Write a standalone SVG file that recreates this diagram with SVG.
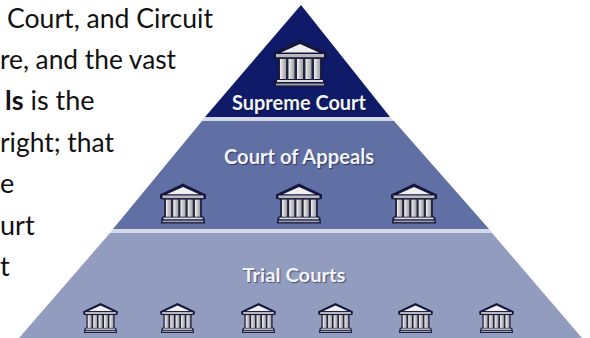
<svg xmlns="http://www.w3.org/2000/svg" xmlns:xlink="http://www.w3.org/1999/xlink" width="590" height="338" viewBox="0 0 590 338">
<style>
.body{font-family:"Lato","Liberation Sans",sans-serif;font-size:27px;fill:#111111}
.lab{font-family:"Lato","Liberation Sans",sans-serif;font-weight:700;fill:#f2f4f8;text-anchor:middle}
.s1{text-shadow:1px 1px 1px #0a1040}
.s2{text-shadow:1px 1px 1px #2c3566}
.s3{text-shadow:1px 1px 1px #4a5178}
</style>
<defs>
<linearGradient id="col" x1="0" x2="1" y1="0" y2="0"><stop offset="0" stop-color="#f0f0f0"/><stop offset="1" stop-color="#a0a0a6"/></linearGradient>
<filter id="soft" x="-5%" y="-5%" width="110%" height="110%"><feGaussianBlur stdDeviation="0.35"/></filter>
<symbol id="temple" viewBox="0 0 54 47">
<g filter="url(#soft)">
<path d="M27 0 L54 13 L54 18 L49 19 L49 38 L52 40 L53 47 L1 47 L2 40 L5 38 L5 19 L0 18 L0 13 Z" fill="#14163c"/>
<path d="M27 4 L46 12.500 L8 12.500 Z" fill="#efefef"/>
<rect x="3" y="14" width="48" height="3.200" fill="#b9b9bf"/>
<rect x="6" y="18" width="42" height="21" fill="#24263c"/>
<g fill="url(#col)"><rect x="7" y="19" width="6" height="20"/><rect x="15.500" y="19" width="6" height="20"/><rect x="24" y="19" width="6" height="20"/><rect x="32.500" y="19" width="6" height="20"/><rect x="41" y="19" width="6" height="20"/></g>
<rect x="4" y="40" width="46" height="2" fill="#dcdce0"/>
<rect x="3" y="43.500" width="48" height="2" fill="#9c9ca4"/>
</g>
</symbol>
</defs>
<rect width="590" height="338" fill="#ffffff"/>
<g id="body-text">
<text class="body" x="7" y="28" textLength="206" lengthAdjust="spacingAndGlyphs">Court, and Circuit</text>
<text class="body" x="0" y="69" textLength="176" lengthAdjust="spacingAndGlyphs">re, and the vast</text>
<text class="body" x="5" y="110"><tspan font-weight="700">ls</tspan> is the</text>
<text class="body" x="0" y="152" textLength="114" lengthAdjust="spacingAndGlyphs">right; that</text>
<text class="body" x="0" y="193">e</text>
<text class="body" x="0" y="235">urt</text>
<text class="body" x="0" y="276">t</text>
</g>
<path id="tier-lines" d="M205 117 L390 117 L394 121 L202 121 Z M113 229 L489 229 L492 233 L110 233 Z" fill="#d5d9e6"/>
<g id="supreme-court">
<path d="M301 5 L390 117 L205 117 Z" fill="#0f1b68"/>
<use xlink:href="#temple" href="#temple" x="273" y="40" width="54" height="47"/>
<text class="lab s1" x="299" y="110" font-size="20" textLength="134" lengthAdjust="spacingAndGlyphs">Supreme Court</text>
</g>
<g id="court-of-appeals">
<path d="M202 121 L394 121 L489 229 L113 229 Z" fill="#6070a5"/>
<use xlink:href="#temple" href="#temple" x="160" y="183" width="46" height="41"/>
<use xlink:href="#temple" href="#temple" x="276" y="183" width="46" height="41"/>
<use xlink:href="#temple" href="#temple" x="391" y="183" width="46" height="41"/>
<text class="lab s2" x="299" y="164" font-size="20" textLength="150" lengthAdjust="spacingAndGlyphs">Court of Appeals</text>
</g>
<g id="trial-courts">
<path d="M110 233 L492 233 L582 338 L19 338 Z" fill="#929cbf"/>
<use xlink:href="#temple" href="#temple" x="83" y="303" width="35" height="30"/>
<use xlink:href="#temple" href="#temple" x="160" y="303" width="35" height="30"/>
<use xlink:href="#temple" href="#temple" x="241" y="303" width="35" height="30"/>
<use xlink:href="#temple" href="#temple" x="318" y="303" width="35" height="30"/>
<use xlink:href="#temple" href="#temple" x="398" y="303" width="35" height="30"/>
<use xlink:href="#temple" href="#temple" x="479" y="303" width="35" height="30"/>
<text class="lab s3" x="294" y="282" font-size="18" textLength="103" lengthAdjust="spacingAndGlyphs">Trial Courts</text>
</g>
</svg>
